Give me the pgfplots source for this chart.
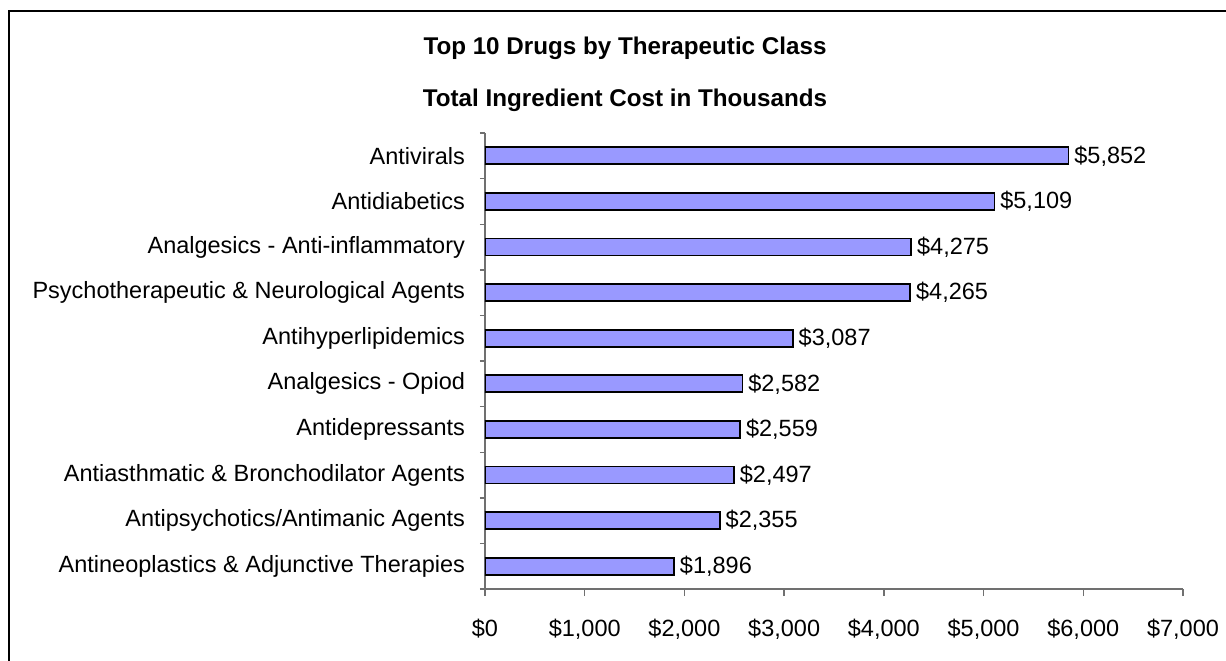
\documentclass[border=0pt]{standalone}
\usepackage{fontspec}
\setmainfont{Liberation Sans}
\usepackage{pgfplots}
\pgfplotsset{compat=1.18}
\definecolor{barblue}{HTML}{9999FF}
\definecolor{axisgray}{HTML}{707070}

\begin{document}
\begin{tikzpicture}
% picture frame (1px = 0.5pt)
\path[use as bounding box] (0pt,0pt) rectangle (613pt,-330pt);
\draw[line width=1.1pt] (4.5pt,-332pt) -- (4.5pt,-5.5pt) -- (615pt,-5.5pt);
\node[font=\bfseries\fontsize{12.1}{14}\selectfont] at (312.5pt,-24pt) {Top 10 Drugs by Therapeutic Class};
\node[font=\bfseries\fontsize{12.1}{14}\selectfont] at (312.5pt,-50pt) {Total Ingredient Cost in Thousands};
\begin{axis}[
    at={(242.5pt,-294.5pt)}, anchor=south west,
    scale only axis, width=349pt, height=228pt,
    xbar, bar width=8.5pt,
    xmin=0, xmax=7000, ymin=-0.5, ymax=9.5,
    axis x line*=bottom, axis y line*=left,
    axis line style={axisgray, line width=0.7pt},
    tick align=outside,
    major tick length=3.5pt, minor tick length=2.5pt,
    xtick={0,1000,...,7000},
    xticklabels={\$0,{\$1,000},{\$2,000},{\$3,000},{\$4,000},{\$5,000},{\$6,000},{\$7,000}},
    x tick style={axisgray, line width=0.7pt},
    ytick={0,...,9},
    yticklabels={Antineoplastics \& Adjunctive Therapies, Antipsychotics/Antimanic Agents,
        Antiasthmatic \& Bronchodilator Agents, Antidepressants, Analgesics - Opiod,
        Antihyperlipidemics, Psychotherapeutic \& Neurological Agents,
        Analgesics - Anti-inflammatory, Antidiabetics, Antivirals},
    major y tick style={draw=none},
    minor ytick={-0.5,0.5,...,9.5},
    minor y tick style={axisgray, line width=0.7pt},
    xticklabel style={font=\fontsize{11.75}{13}\selectfont, yshift=-8pt},
    yticklabel style={font=\fontsize{11.75}{13}\selectfont, xshift=-3pt},
    /pgf/number format/assume math mode=true,
    point meta=x,
    nodes near coords={\$\pgfmathprintnumber[fixed,1000 sep={,}]{\pgfplotspointmeta}},
    nodes near coords align=horizontal,
    every node near coord/.append style={font=\fontsize{11.75}{13}\selectfont, black, anchor=west, inner sep=2.5pt},
]
\addplot[fill=barblue, draw=black, line width=0.9pt] coordinates {
 (1896,0) (2355,1) (2497,2) (2559,3) (2582,4)
 (3087,5) (4265,6) (4275,7) (5109,8) (5852,9)
};
\end{axis}
\end{tikzpicture}
\end{document}
